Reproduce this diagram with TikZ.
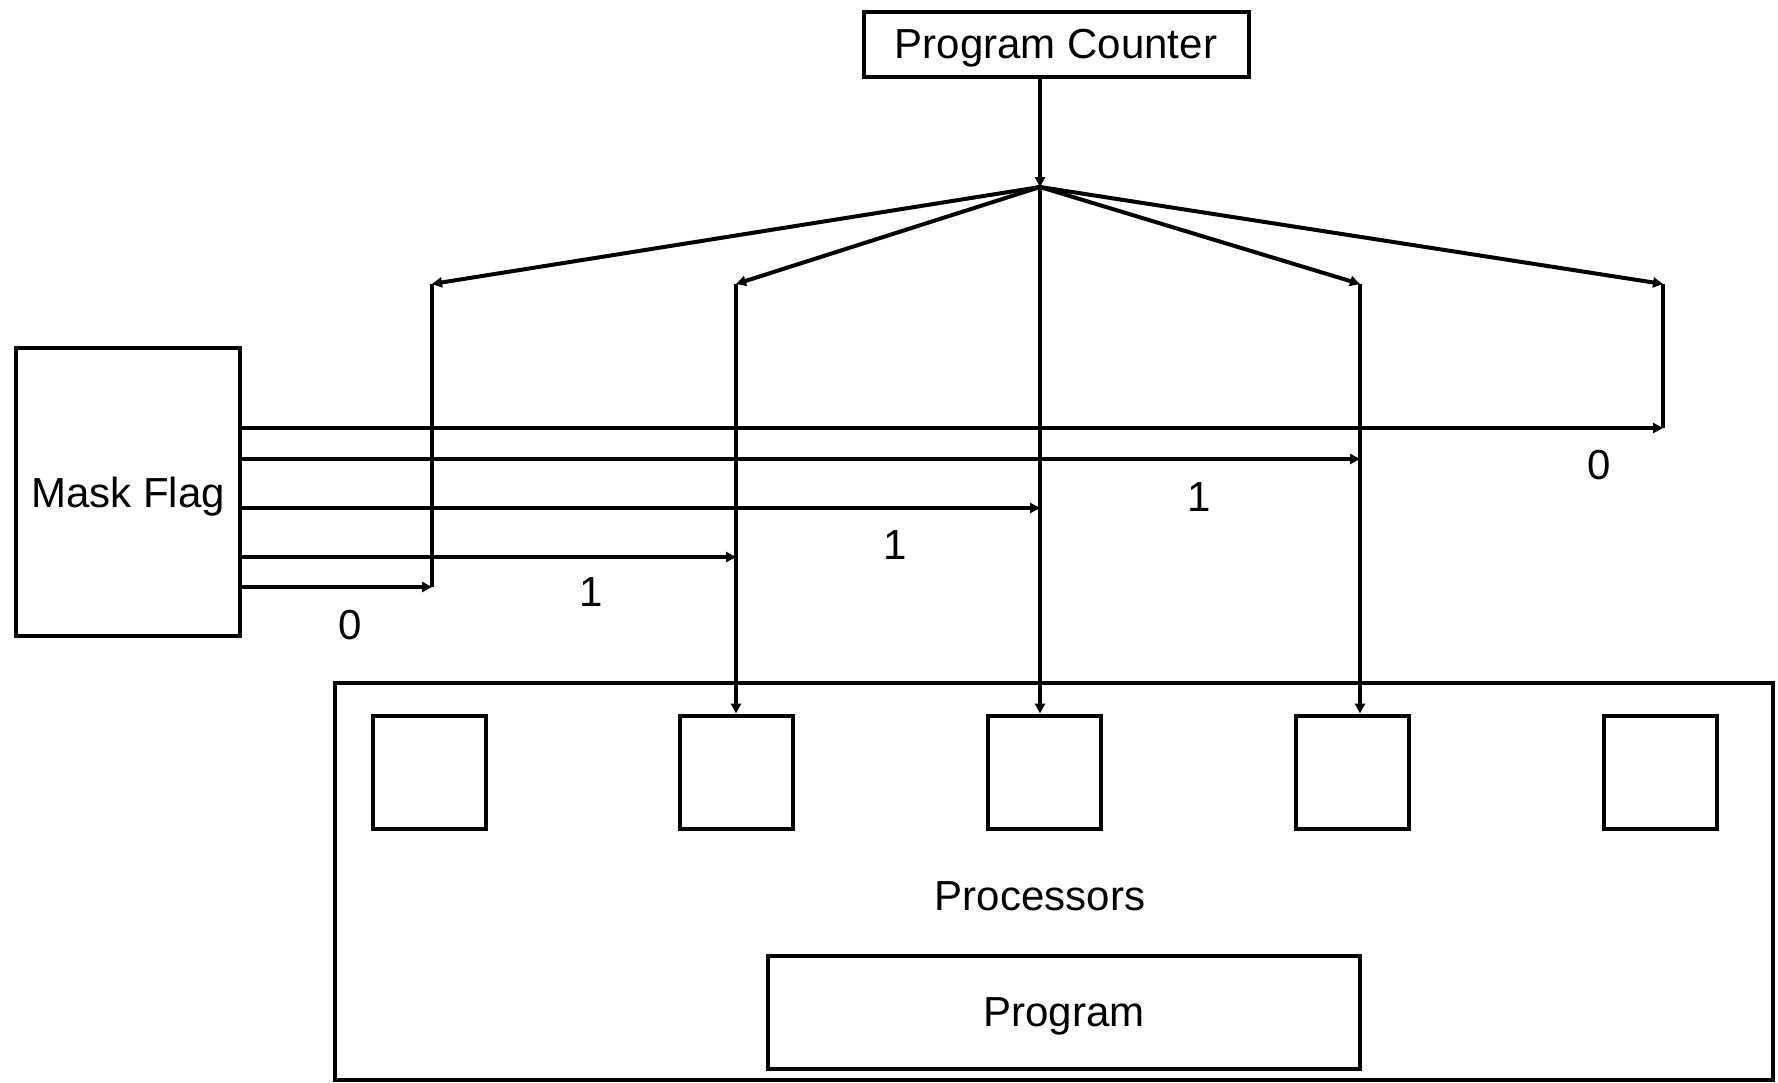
\documentclass[tikz,border=0pt]{standalone}
\usepackage{fontspec}
\setmainfont{Liberation Sans}
\usetikzlibrary{arrows.meta}
\begin{document}
\begin{tikzpicture}[x=1pt,y=-1pt,
  every node/.style={font=\fontsize{42}{48}\selectfont, inner sep=0pt},
  box/.style={draw, line width=4pt},
  tbox/.style={box, text depth=0pt},
  wire/.style={line width=4pt},
  arr/.style={line width=4pt, -{Triangle[length=10pt,width=10pt]}},
  lbl/.style={}]
\useasboundingbox (0,0) rectangle (1778,1082);
% boxes
\node[tbox, minimum width=385pt, minimum height=65pt] (pc) at (1056,44) {Program Counter};
\node[tbox, minimum width=224pt, minimum height=288pt] (mask) at (128,492) {Mask Flag};
\draw[box] (335,683) rectangle (1773,1080);
\node (proc) at (1040,896) {Processors};
\node[tbox, minimum width=592pt, minimum height=113pt] (prog) at (1064,1012) {Program};
\foreach \i/\x in {1/429,2/736,3/1044,4/1352,5/1660}{
  \node[box, minimum width=113pt, minimum height=113pt] (p\i) at (\x,772) {};
}
% coordinates
\coordinate (hub) at (1040,187);
\coordinate (t1) at (432,284);
\coordinate (t2) at (736,284);
\coordinate (t4) at (1360,284);
\coordinate (t5) at (1663,284);
\coordinate (m1) at (432,587);
\coordinate (m2) at (736,557);
\coordinate (m3) at (1040,508);
\coordinate (m4) at (1360,459);
\coordinate (m5) at (1663,428);
% program counter to hub
\draw[arr] (pc.south -| hub) -- (hub);
\draw[arr] (hub) -- (t1);
\draw[arr] (hub) -- (t2);
\draw[arr] (hub) -- (t4);
\draw[arr] (hub) -- (t5);
% verticals
\draw[wire] (t1) -- (m1);
\draw[wire] (t5) -- (m5);
\draw[arr] (t2) -- (t2 |- p2.north);
\draw[arr] (hub) -- (hub |- p3.north);
\draw[arr] (t4) -- (t4 |- p4.north);
% mask lines
\draw[arr] (mask.east |- m5) -- (m5);
\draw[arr] (mask.east |- m4) -- (m4);
\draw[arr] (mask.east |- m3) -- (m3);
\draw[arr] (mask.east |- m2) -- (m2);
\draw[arr] (mask.east |- m1) -- (m1);
% labels
\node[lbl] (l5) at (1599,465) {0};
\node[lbl] (l4) at (1199,497) {1};
\node[lbl] (l3) at (895,545) {1};
\node[lbl] (l2) at (591,592) {1};
\node[lbl] (l1) at (350,625) {0};
\end{tikzpicture}
\end{document}
